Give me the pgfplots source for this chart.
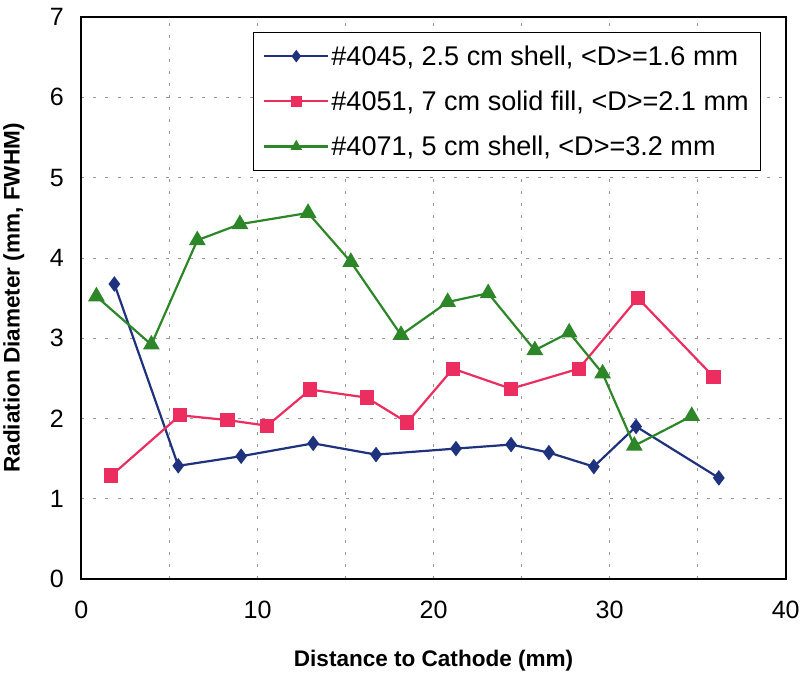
\documentclass[border=0pt]{standalone}
\usepackage{pgfplots}
\pgfplotsset{compat=1.18}
\usepackage{fontspec}
\setmainfont{Liberation Sans}
\definecolor{cblue}{RGB}{30,50,125}
\definecolor{cred}{RGB}{235,45,95}
\definecolor{cgreen}{RGB}{45,135,40}
\begin{document}
\begin{tikzpicture}
\begin{axis}[
  scale only axis, width=703pt, height=561pt,
  xmin=0, xmax=40, ymin=0, ymax=7,
  xtick={0,10,20,30,40}, minor xtick={5,15,25,35},
  ytick={0,1,...,7},
  grid=both,
  major grid style={gray!80, dash pattern=on 3pt off 9pt, line width=0.6pt},
  minor grid style={gray!80, dash pattern=on 3pt off 9pt, line width=0.6pt},
  tick style={draw=none},
  axis line style={line width=2pt},
  /pgf/number format/assume math mode=true,
  ticklabel style={font=\fontsize{25}{28}\selectfont},
  xticklabel style={yshift=-18pt},
  yticklabel style={xshift=-14pt},
  xlabel={\bfseries Distance to Cathode (mm)},
  ylabel={\bfseries Radiation Diameter (mm, FWHM)},
  label style={font=\fontsize{22.5}{26}\selectfont},
  xlabel style={at={(axis description cs:0.5,-0.146)}, anchor=center},
  ylabel style={at={(axis description cs:-0.096,0.5)}, anchor=center},
  legend style={at={(rel axis cs:0.965,0.973)}, anchor=north east,
    font=\fontsize{27}{32}\selectfont, draw=black, thick,
    row sep=20pt, inner xsep=10pt, inner ysep=11pt},
  legend cell align=left,
  legend image code/.code={%
    \draw[#1, line width=2.2pt, mark size=4.5pt, mark repeat=2, mark phase=2]
      plot coordinates {(0pt,0pt) (32pt,0pt) (64pt,0pt)};},
  every axis plot/.append style={line width=2.2pt},
]
\coordinate (tl) at (rel axis cs:0,1);
\addplot[cblue, mark=diamond*, mark size=6pt] coordinates {
(1.87,3.675) (5.5,1.41) (9.07,1.53) (13.16,1.69) (16.73,1.55) (21.27,1.625)
(24.4,1.675) (26.55,1.575) (29.1,1.40) (31.5,1.90) (36.2,1.26)};
\addlegendentry{\#4045, 2.5 cm shell, <D>=1.6 mm}
\addplot[cred, mark=square*, mark size=6pt] coordinates {
(1.7,1.29) (5.6,2.04) (8.3,1.98) (10.55,1.91) (13.0,2.36) (16.2,2.26)
(18.5,1.95) (21.1,2.62) (24.4,2.37) (28.25,2.62) (31.6,3.5) (35.9,2.52)};
\addlegendentry{\#4051, 7 cm solid fill, <D>=2.1 mm}
\addplot[cgreen, mark=triangle*, mark size=7.5pt] coordinates {
(0.85,3.52) (3.97,2.92) (6.58,4.22) (9.0,4.42) (12.87,4.56) (15.3,3.95)
(18.15,3.04) (20.8,3.45) (23.1,3.56) (25.75,2.85) (27.7,3.07) (29.6,2.56)
(31.4,1.66) (34.66,2.03)};
\addlegendentry{\#4071, 5 cm shell, <D>=3.2 mm}
\end{axis}
\path (tl) ++(0,17pt);
\end{tikzpicture}
\end{document}
